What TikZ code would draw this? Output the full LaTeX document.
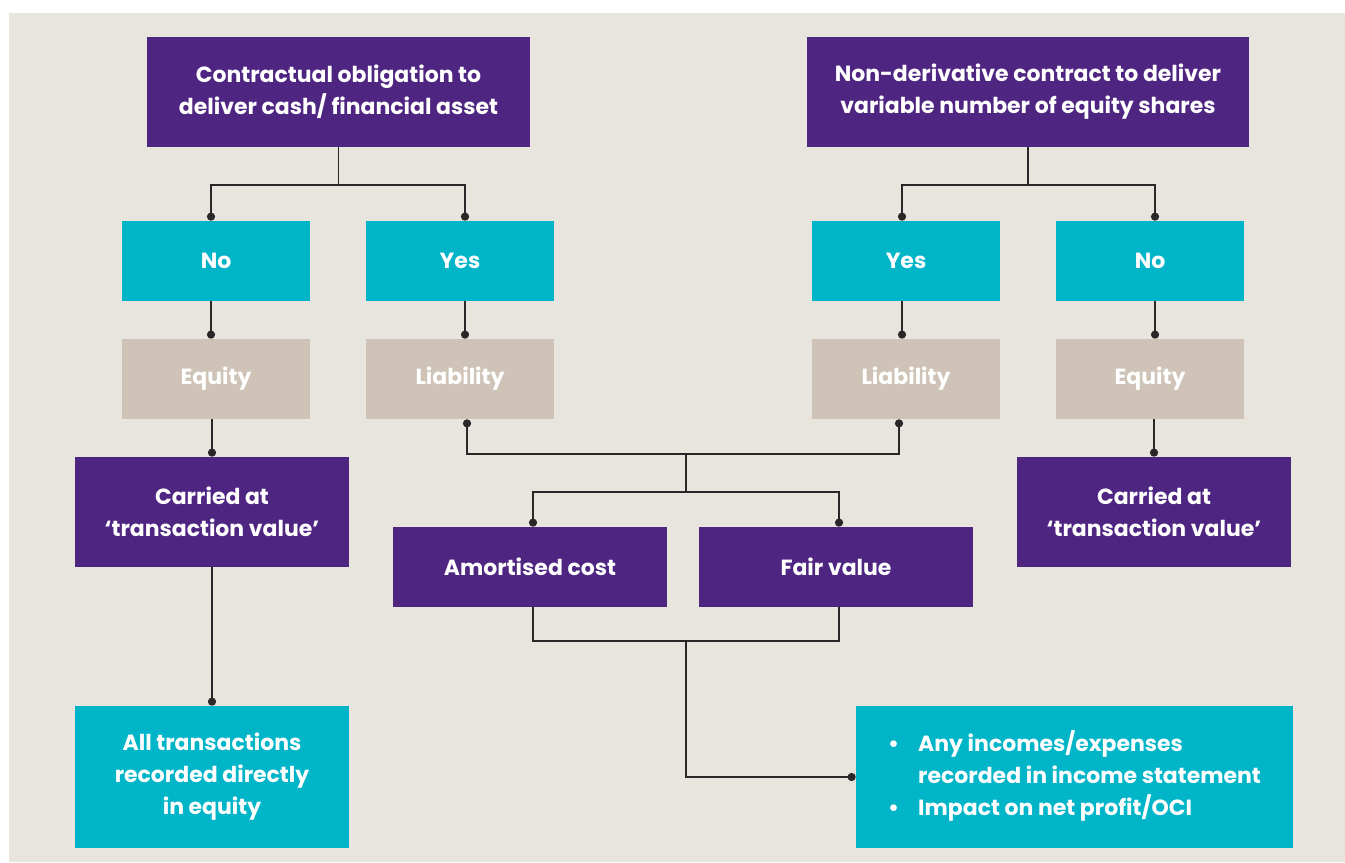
\documentclass[tikz,border=0pt]{standalone}
\usepackage{fontspec}
\setmainfont{Poppins}
\usetikzlibrary{arrows.meta,calc}

\definecolor{plum}{HTML}{4F2582}
\definecolor{teal}{HTML}{00B5C8}
\definecolor{sand}{HTML}{CEC3B6}
\definecolor{paper}{HTML}{E8E4DE}
\definecolor{ink}{HTML}{2A2728}

\tikzset{
  box/.style={inner sep=0pt, align=center, text=white,
    font=\fontsize{12.5}{18.2}\selectfont\bfseries},
  headbox/.style={box, fill=plum, minimum height=110*0.02cm},
  answer/.style={box, fill=teal, minimum width=188*0.02cm, minimum height=80*0.02cm},
  kind/.style={box, fill=sand, minimum width=188*0.02cm, minimum height=80*0.02cm},
  carried/.style={box, fill=plum, minimum width=274*0.02cm, minimum height=110*0.02cm},
  measure/.style={box, fill=plum, minimum width=274*0.02cm, minimum height=80*0.02cm},
  result/.style={box, fill=teal, minimum height=142*0.02cm},
  link/.style={draw=ink, line width=1.1pt, -{Circle[length=4.6pt]}},
  plainlink/.style={draw=ink, line width=1.1pt},
}

\begin{document}
\begin{tikzpicture}[x=0.02cm, y=-0.02cm]
\useasboundingbox (0,0) rectangle (1345,862);
\fill[paper] (9,13) rectangle (1345,862);

% top questions
\node[headbox, minimum width=383*0.02cm] (top1) at (338.5,92) {Contractual obligation to\\deliver cash/ financial asset};
\node[headbox, minimum width=442*0.02cm] (top2) at (1028,92) {Non-derivative contract to deliver\\variable number of equity shares};

% answers
\node[answer] (no1) at (216,261) {No};
\node[answer] (yes1) at (460,261) {Yes};
\node[answer] (yes2) at (906,261) {Yes};
\node[answer] (no2) at (1150,261) {No};

% classification
\node[kind] (eq1) at (216,379) {Equity};
\node[kind] (liab1) at (460,379) {Liability};
\node[kind] (liab2) at (906,379) {Liability};
\node[kind] (eq2) at (1150,379) {Equity};

\node[carried] (car1) at (212,512) {Carried at\\‘transaction value’};
\node[carried] (car2) at (1154,512) {Carried at\\‘transaction value’};

\node[measure] (amort) at (530,567) {Amortised cost};
\node[measure] (fair) at (836,567) {Fair value};

\node[result, minimum width=274*0.02cm] (all) at (212,777) {All transactions\\recorded directly\\in equity};
\node[result, minimum width=437*0.02cm] (bul) at (1074.5,777) {%
  \begin{tabular}{@{}l@{\hspace{0.38cm}}l@{}}
  • & Any incomes/expenses\\
    & recorded in income statement\\
  • & Impact on net profit/OCI
  \end{tabular}};

% connectors
\draw[link] (top1.south) -- ++(0,38) -| ([xshift=-0.1cm]no1.north);
\draw[link] (top1.south) -- ++(0,38) -| ([xshift=0.1cm]yes1.north);
\draw[link] (top2.south) -- ++(0,38) -| ([xshift=-0.08cm]yes2.north);
\draw[link] (top2.south) -- ++(0,38) -| ([xshift=0.1cm]no2.north);

\draw[link] ([xshift=-0.1cm]no1.south) -- ([xshift=-0.1cm]eq1.north);
\draw[link] ([xshift=0.1cm]yes1.south) -- ([xshift=0.1cm]liab1.north);
\draw[link] ([xshift=-0.08cm]yes2.south) -- ([xshift=-0.08cm]liab2.north);
\draw[link] ([xshift=0.1cm]no2.south) -- ([xshift=0.1cm]eq2.north);

\draw[link] (eq1.south -| car1.north) -- (car1.north);
\draw[link] (eq2.south -| car2.north) -- (car2.north);
\draw[link] (car1.south) -- (all.north);

\coordinate (mid1) at ($(liab1.south)!.5!(liab2.south)+(3,35)$);
\draw[link] (mid1) -| ([xshift=0.14cm]liab1.south);
\draw[link] (mid1) -| ([xshift=-0.14cm]liab2.south);
\draw[link] (mid1) -- ++(0,38) -| ([xshift=0.06cm]amort.north);
\draw[link] (mid1) -- ++(0,38) -| ([xshift=0.06cm]fair.north);

\coordinate (mid2) at ($(amort.south)!.5!(fair.south)+(3,34)$);
\draw[plainlink] ([xshift=0.06cm]amort.south) |- (mid2) -| ([xshift=0.06cm]fair.south);
\draw[link] (mid2) |- (bul.west);
\end{tikzpicture}
\end{document}
